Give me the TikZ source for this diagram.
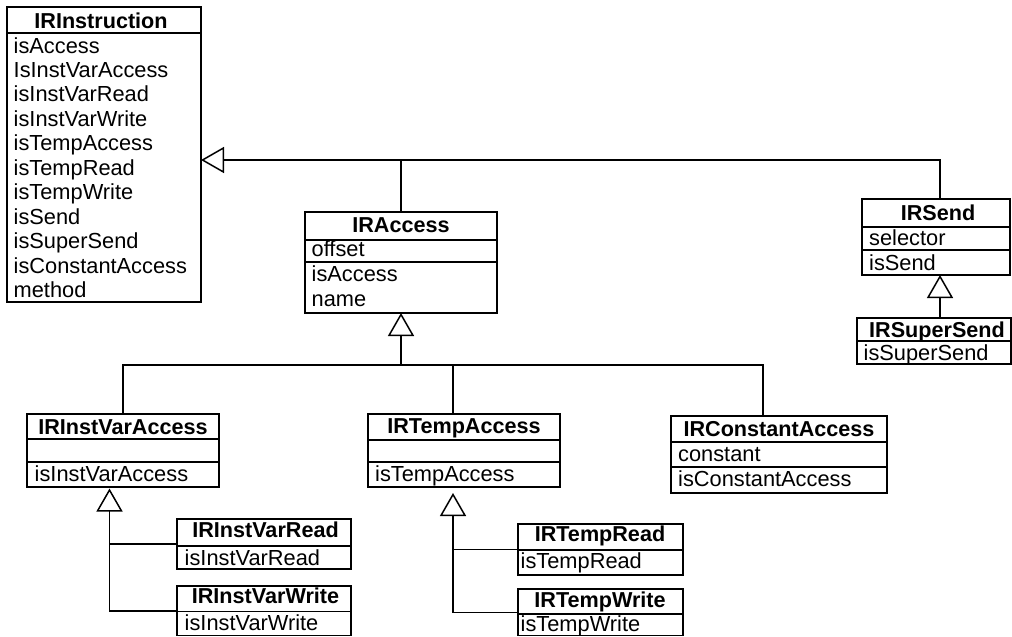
\documentclass[tikz,border=0pt]{standalone}
\usepackage{fontspec}
\setmainfont{Liberation Sans}
\usetikzlibrary{arrows.meta,calc}
\begin{document}
\begin{tikzpicture}[x=1pt,y=-1pt,
  box/.style={draw, line width=1.5pt, anchor=north west, inner sep=0pt, outer sep=0pt},
  sepline/.style={line width=1.5pt},
  hd/.style={anchor=base, inner sep=0pt, font=\fontsize{21.6pt}{24pt}\selectfont\bfseries},
  it/.style={anchor=base west, inner sep=0pt, font=\fontsize{21.8pt}{24pt}\selectfont},
  link/.style={line width=1.5pt},
  gen/.style={line width=1.5pt, -{Triangle[open, length=23pt, width=26pt]}}]
\useasboundingbox (0,0) rectangle (1012,637);

% ---------- IRInstruction
\node[box, minimum width=194pt, minimum height=295pt] (iri) at (7,7) {};
\draw[sepline] (7,33) -- (201,33);
\node[hd] (iri-h) at (101,28) {IRInstruction};
\node[it] (iri-1) at (13.5,53) {isAccess};
\node[it] (iri-2) at (13.5,77.45) {IsInstVarAccess};
\node[it] (iri-3) at (13.5,101.9) {isInstVarRead};
\node[it] (iri-4) at (13.5,126.35) {isInstVarWrite};
\node[it] (iri-5) at (13.5,150.8) {isTempAccess};
\node[it] (iri-6) at (13.5,175.25) {isTempRead};
\node[it] (iri-7) at (13.5,199.7) {isTempWrite};
\node[it] (iri-8) at (13.5,224.15) {isSend};
\node[it] (iri-9) at (13.5,248.6) {isSuperSend};
\node[it] (iri-10) at (13.5,273.05) {isConstantAccess};
\node[it] (iri-11) at (13.5,297.5) {method};

% ---------- IRAccess
\node[box, minimum width=192pt, minimum height=101pt] (ira) at (305,212) {};
\draw[sepline] (305,240) -- (497,240);
\draw[sepline] (305,262) -- (497,262);
\node[hd] (ira-h) at (401,232) {IRAccess};
\node[it] (ira-1) at (311.5,256.5) {offset};
\node[it] (ira-2) at (311.5,281) {isAccess};
\node[it] (ira-3) at (311.5,306) {name};

% ---------- IRSend
\node[box, minimum width=148pt, minimum height=76pt] (irs) at (862,199) {};
\draw[sepline] (862,227) -- (1010,227);
\draw[sepline] (862,250) -- (1010,250);
\node[hd] (irs-h) at (938,220) {IRSend};
\node[it] (irs-1) at (869,245) {selector};
\node[it] (irs-2) at (869,270.5) {isSend};

% ---------- IRSuperSend
\node[box, minimum width=154pt, minimum height=46pt] (irss) at (857,318) {};
\draw[sepline] (857,341) -- (1011,341);
\node[hd] (irss-h) at (937,337) {IRSuperSend};
\node[it] (irss-1) at (863.5,360) {isSuperSend};

% ---------- IRInstVarAccess
\node[box, minimum width=192pt, minimum height=73pt] (ivA) at (27,414) {};
\draw[sepline] (27,439) -- (219,439);
\draw[sepline] (27,462) -- (219,462);
\node[hd] (ivA-h) at (123,434) {IRInstVarAccess};
\node[it] (ivA-1) at (34.5,481) {isInstVarAccess};

% ---------- IRTempAccess
\node[box, minimum width=192pt, minimum height=73pt] (tA) at (368,414) {};
\draw[sepline] (368,440) -- (560,440);
\draw[sepline] (368,462) -- (560,462);
\node[hd] (tA-h) at (464,433.5) {IRTempAccess};
\node[it] (tA-1) at (375,481) {isTempAccess};

% ---------- IRConstantAccess
\node[box, minimum width=216pt, minimum height=77pt] (cA) at (671,416) {};
\draw[sepline] (671,442) -- (887,442);
\draw[sepline] (671,467) -- (887,467);
\node[hd] (cA-h) at (779,436) {IRConstantAccess};
\node[it] (cA-1) at (678,461) {constant};
\node[it] (cA-2) at (678,486) {isConstantAccess};

% ---------- IRInstVarRead / Write
\node[box, minimum width=174pt, minimum height=50pt] (ivR) at (177,519) {};
\draw[sepline] (177,546) -- (351,546);
\node[hd] (ivR-h) at (265.5,537.5) {IRInstVarRead};
\node[it] (ivR-1) at (184.5,565) {isInstVarRead};

\node[box, minimum width=174pt, minimum height=49.5pt] (ivW) at (177,586) {};
\draw[sepline] (177,611.5) -- (351,611.5);
\node[hd] (ivW-h) at (265.5,603) {IRInstVarWrite};
\node[it] (ivW-1) at (184.5,630) {isInstVarWrite};

% ---------- IRTempRead / Write
\node[box, minimum width=165pt, minimum height=51pt] (tR) at (518,524) {};
\draw[sepline] (518,550) -- (683,550);
\node[hd] (tR-h) at (600,541.5) {IRTempRead};
\node[it] (tR-1) at (520.5,568) {isTempRead};

\node[box, minimum width=165pt, minimum height=46.5pt] (tW) at (518,589) {};
\draw[sepline] (518,614) -- (683,614);
\node[hd] (tW-h) at (600,607) {IRTempWrite};
\node[it] (tW-1) at (520.5,631) {isTempWrite};

% ---------- connectors
\coordinate (j1) at (940,160);
\draw[link] (ira.north) -- (ira.north |- j1);
\draw[gen] (irs.north -| j1) -- (j1) -- (iri.east |- j1);
\draw[gen] (irss.north -| j1) -- (irs.south -| j1);

\coordinate (j2) at (401,365);
\coordinate (tAin) at ($(tA.north west)+(85,0)$);
\coordinate (cAin) at ($(cA.north west)+(92,0)$);
\draw[gen] (j2) -- (ira.south);
\draw[link] (ivA.north) |- (cAin |- j2) -- (cAin);
\draw[link] (tAin |- j2) -- (tAin);

\coordinate (v1) at ($(ivA.south west)+(82.5,1.5)$);
\draw[gen] (ivW.west) -| (v1);
\draw[link] (ivR.west) -- (ivR.west -| v1);

\coordinate (v2) at ($(tA.south west)+(85,6)$);
\draw[gen] (tW.west) -| (v2);
\draw[link] (tR.west) -- (tR.west -| v2);
\end{tikzpicture}
\end{document}
